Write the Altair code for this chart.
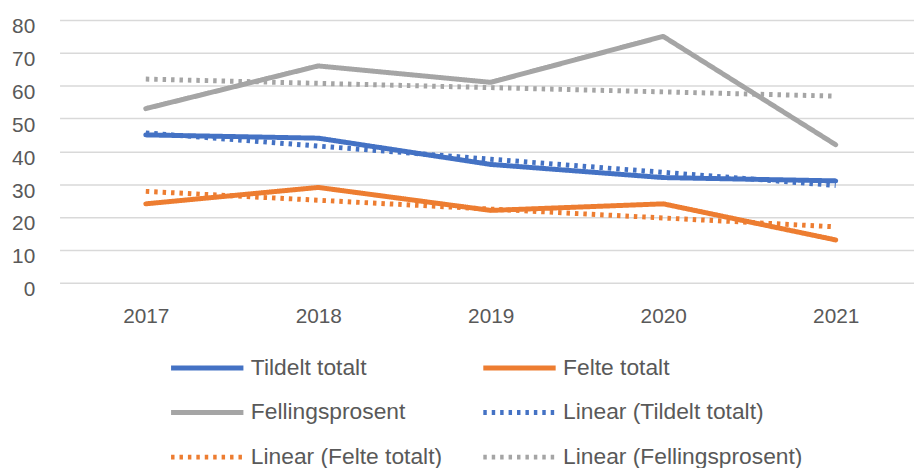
import altair as alt
import pandas as pd

years = [2017, 2018, 2019, 2020, 2021]
tildelt = [45, 44, 36, 32, 31]
felte = [24, 29, 22, 24, 13]
fellingsprosent = [53, 66, 61, 75, 42]
lin_tildelt = [45.6, 41.6, 37.6, 33.6, 29.6]
lin_felte = [27.8, 25.1, 22.4, 19.7, 17.0]
lin_felling = [62.0, 60.7, 59.4, 58.1, 56.8]

series_names = ["Tildelt totalt", "Felte totalt", "Fellingsprosent",
                "Linear (Tildelt totalt)", "Linear (Felte totalt)", "Linear (Fellingsprosent)"]
series_colors = ["#4472C4", "#ED7D31", "#A5A5A5", "#4472C4", "#ED7D31", "#A5A5A5"]
series_dashes = [[1, 0], [1, 0], [1, 0], [3.5, 5], [3.5, 5], [3.5, 5]]
series_widths = [5, 5, 5, 3.2, 3.2, 3.2]

# legend fills column by column (3 rows x 2 columns): reorder so it reads row by row
legend_order = [0, 2, 4, 1, 3, 5]
domain = [series_names[i] for i in legend_order]
colors = [series_colors[i] for i in legend_order]
dashes = [series_dashes[i] for i in legend_order]
widths = [series_widths[i] for i in legend_order]

all_values = [tildelt, felte, fellingsprosent, lin_tildelt, lin_felte, lin_felling]
rows = []
for name, vals in zip(series_names, all_values):
    for y, v in zip(years, vals):
        rows.append({"year": y, "value": v, "series": name, "trend": name.startswith("Linear")})
df = pd.DataFrame(rows)

FONT = "Liberation Sans"
TXT = "#595959"

x = alt.X("year:Q",
          scale=alt.Scale(domain=[2016.5, 2021.454], nice=False, zero=False),
          axis=alt.Axis(values=years, format="d", title=None, grid=False, domain=False,
                        ticks=False, labelPadding=23, labelFontSize=21, labelColor=TXT,
                        labelFont=FONT))
y = alt.Y("value:Q",
          scale=alt.Scale(domain=[0, 80], nice=False),
          axis=alt.Axis(values=list(range(0, 81, 10)), title=None, domain=False, ticks=False,
                        labelPadding=25, labelFontSize=21, labelColor=TXT, labelFont=FONT,
                        labelOffset=7, gridColor="#D9D9D9", gridWidth=1.5))

color = alt.Color("series:N", scale=alt.Scale(domain=domain, range=colors),
                  legend=alt.Legend(title=None, orient="none", legendX=110, legendY=341,
                                    columns=2, columnPadding=38, rowPadding=22,
                                    clipHeight=20,
                                    symbolType="stroke", symbolSize=5329,
                                    labelFontSize=23, labelColor=TXT, labelFont=FONT,
                                    labelOffset=5, padding=0, labelLimit=400))
dash = alt.StrokeDash("series:N", scale=alt.Scale(domain=domain, range=dashes))
sw = alt.StrokeWidth("series:N", scale=alt.Scale(domain=domain, range=widths))

solid = alt.Chart(df).mark_line(strokeCap="round", strokeJoin="round").encode(
    x=x, y=y, color=color, strokeDash=dash, strokeWidth=sw).transform_filter("!datum.trend")
trend = alt.Chart(df).mark_line(strokeCap="butt", strokeJoin="round").encode(
    x=x, y=y, color=color, strokeDash=dash, strokeWidth=sw).transform_filter("datum.trend")

chart = alt.layer(solid, trend).properties(
    width=862, height=265,
    autosize=alt.AutoSizeParams(type="none"),
    padding={"left": 52, "top": 10, "right": 0, "bottom": 195},
).configure_view(stroke=None)

chart.save("out.html", embed_options={"renderer": "svg", "actions": False})
